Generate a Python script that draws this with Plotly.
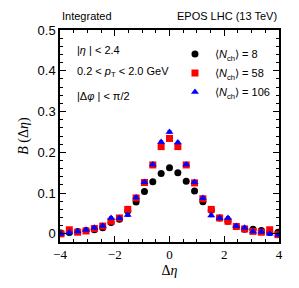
import plotly.graph_objects as go

deta = [-3.965, -3.66, -3.355, -3.05, -2.745, -2.44, -2.135, -1.83, -1.525, -1.22, -0.915, -0.61, -0.305,
        0.0, 0.305, 0.61, 0.915, 1.22, 1.525, 1.83, 2.135, 2.44, 2.745, 3.05, 3.355, 3.66, 3.965]

b_n8 = [0.002, 0.003, 0.006, 0.008, 0.010, 0.015, 0.028, 0.036, 0.056, 0.078, 0.104, 0.128, 0.148,
        0.162, 0.150, 0.129, 0.105, 0.079, 0.058, 0.039, 0.031, 0.018, 0.011, 0.011, 0.008, 0.003, 0.004]
b_n58 = [0.000, 0.010, 0.004, 0.007, 0.013, 0.019, 0.031, 0.039, 0.060, 0.088, 0.126, 0.169, 0.214,
         0.234, 0.214, 0.169, 0.125, 0.086, 0.060, 0.039, 0.031, 0.018, 0.012, 0.006, 0.004, 0.010, -0.002]
b_n106 = [0.000, 0.003, 0.006, 0.010, 0.015, 0.020, 0.039, 0.038, 0.046, 0.089, 0.127, 0.170, 0.225,
          0.250, 0.224, 0.170, 0.127, 0.088, 0.045, 0.039, 0.039, 0.019, 0.015, 0.006, 0.005, 0.000, -0.002]
err = 0.003

names = ["⟨<i>N</i><sub>ch</sub>⟩ = 8", "⟨<i>N</i><sub>ch</sub>⟩ = 58", "⟨<i>N</i><sub>ch</sub>⟩ = 106"]
series = [b_n8, b_n58, b_n106]
colors = ["#000000", "#ff0000", "#0000ff"]
symbols = ["circle", "square", "triangle-up"]

fig = go.Figure()
for name, ys, c, s in zip(names, series, colors, symbols):
    fig.add_trace(go.Scatter(
        x=deta, y=ys, mode="markers", name=name,
        marker=dict(color=c, symbol=s, size=7, line=dict(width=0)),
        error_y=dict(type="constant", value=err, color=c, thickness=1, width=2),
    ))

serif = "Liberation Serif, Times New Roman, serif"
sans = "Liberation Sans, Arial, sans-serif"

fig.update_layout(
    width=299, height=288,
    margin=dict(l=52, r=28, t=22, b=54),
    paper_bgcolor="white", plot_bgcolor="white",
    showlegend=True,
    legend=dict(x=0.525, y=0.955, xanchor="left", yanchor="top",
                bgcolor="rgba(0,0,0,0)", font=dict(family=sans, size=11, color="black"),
                itemwidth=30, tracegroupgap=0),
    xaxis=dict(range=[-4, 4], dtick=2, ticks="inside", ticklen=6, tickcolor="black",
               showgrid=False, zeroline=False, showline=True, linecolor="black", linewidth=1.5,
               mirror="allticks", tickfont=dict(family=serif, size=13, color="black"),
               minor=dict(dtick=0.5, ticks="inside", ticklen=3, tickcolor="black"),
               title=dict(text="Δ<i>η</i>", font=dict(family=serif, size=14, color="black"), standoff=4)),
    yaxis=dict(range=[-0.02, 0.5], dtick=0.1, ticks="inside", ticklen=6, tickcolor="black",
               showgrid=False, zeroline=False, showline=True, linecolor="black", linewidth=1.5,
               mirror="allticks", tickfont=dict(family=sans, size=13, color="black"),
               minor=dict(dtick=0.02, ticks="inside", ticklen=3, tickcolor="black"),
               title=dict(text="<i>B</i> (Δ<i>η</i>)", font=dict(family=serif, size=14, color="black"), standoff=6)),
    annotations=[
        dict(text="Integrated", x=0, y=1.066, xref="paper", yref="paper", xanchor="left", yanchor="middle",
             showarrow=False, font=dict(family=sans, size=11, color="black")),
        dict(text="EPOS LHC (13 TeV)", x=1, y=1.066, xref="paper", yref="paper", xanchor="right", yanchor="middle",
             showarrow=False, font=dict(family=sans, size=11, color="black")),
        dict(text="|<i>η</i> | < 2.4", x=0.068, y=0.906, xref="paper", yref="paper", xanchor="left", yanchor="middle",
             showarrow=False, font=dict(family=sans, size=11, color="black")),
        dict(text="0.2 < <i>p</i><sub>T</sub> < 2.0 GeV", x=0.068, y=0.802, xref="paper", yref="paper", xanchor="left", yanchor="middle",
             showarrow=False, font=dict(family=sans, size=11, color="black")),
        dict(text="|Δ<i>φ</i> | < π/2", x=0.068, y=0.689, xref="paper", yref="paper", xanchor="left", yanchor="middle",
             showarrow=False, font=dict(family=sans, size=11, color="black")),
    ],
)

fig.write_html("out.html")
